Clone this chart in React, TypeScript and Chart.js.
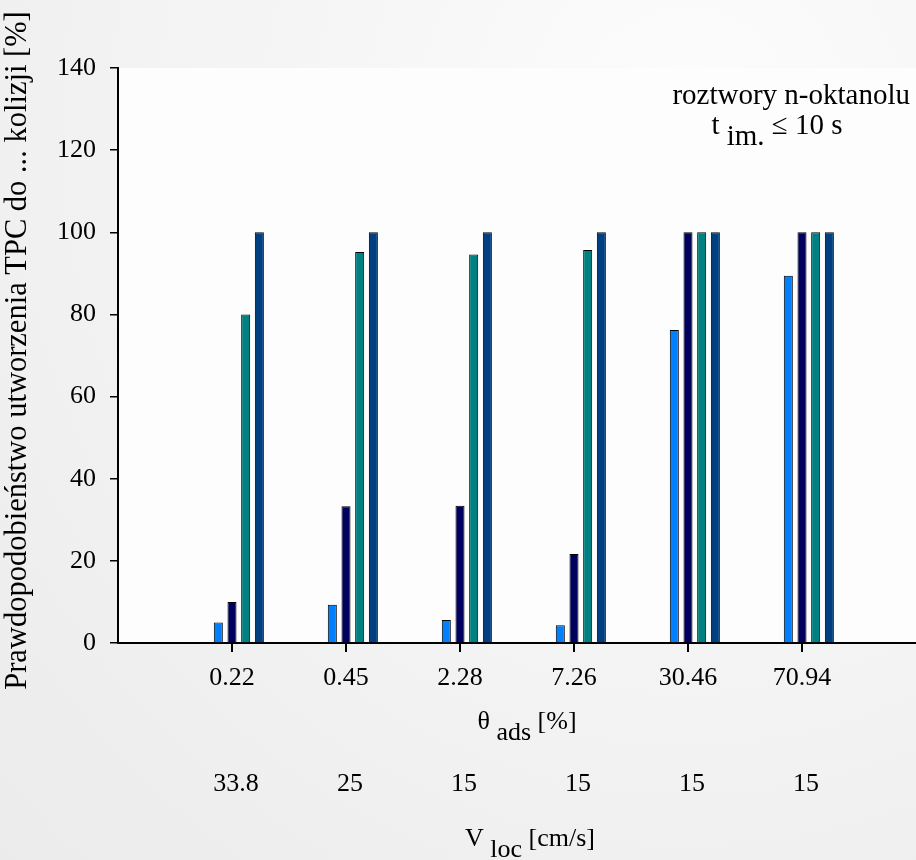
import React, { useEffect, useRef } from "react";
import { Chart, registerables } from "chart.js";

Chart.register(...registerables);

// ---- data ----
const thetaLabels = ["0.22", "0.45", "2.28", "7.26", "30.46", "70.94"];
const vlocLabels = ["33.8", "25", "15", "15", "15", "15"];
const series1 = [5.0, 9.3, 5.6, 4.3, 76.2, 89.4];
const series2 = [10.0, 33.3, 33.4, 21.7, 100, 100];
const series3 = [80.0, 95.2, 94.6, 95.7, 100, 100];
const series4 = [100, 100, 100, 100, 100, 100];
const seriesBlank = [null, null, null, null, null, null];
const seriesColors = ["#0080ff", "#00005e", "#008080", "#004080"];
const yMin = 0;
const yMax = 140;
const yStep = 20;

const FONT = "'Liberation Serif', 'Times New Roman', serif";
const W = 916;
const H = 860;

const pad = (arr: (number | null)[]) => [null, ...arr, null];

type Part = { text: string; size: number; dy: number };

function drawParts(ctx: CanvasRenderingContext2D, parts: Part[], cx: number, y: number) {
  let total = 0;
  const widths = parts.map((p) => {
    ctx.font = `${p.size}px ${FONT}`;
    const w = ctx.measureText(p.text).width;
    total += w;
    return w;
  });
  let x = cx - total / 2;
  ctx.textAlign = "left";
  ctx.textBaseline = "alphabetic";
  parts.forEach((p, i) => {
    ctx.font = `${p.size}px ${FONT}`;
    ctx.fillText(p.text, x, y + p.dy);
    x += widths[i];
  });
}

const decorPlugin = {
  id: "decor",
  beforeDraw(chart: any) {
    const { ctx, chartArea } = chart;
    ctx.save();
    ctx.fillStyle = "#fdfdfd";
    ctx.fillRect(chartArea.left, chartArea.top, chartArea.right - chartArea.left, chartArea.bottom - chartArea.top);
    ctx.restore();
  },
  afterDraw(chart: any) {
    const { ctx, chartArea } = chart;
    const xs = chart.scales.x;
    ctx.save();
    // category tick marks below the x axis
    ctx.fillStyle = "#000";
    thetaLabels.forEach((_, i) => {
      const px = Math.round(xs.getPixelForValue(i + 1));
      ctx.fillRect(px - 1, Math.round(chartArea.bottom), 2, 9);
    });
    // second row of category labels (V loc)
    ctx.font = `26px ${FONT}`;
    ctx.textAlign = "center";
    ctx.textBaseline = "middle";
    vlocLabels.forEach((lab, i) => {
      ctx.fillText(lab, xs.getPixelForValue(i + 1) + 4, 784);
    });
    // theta ads title
    drawParts(ctx, [
      { text: "θ ", size: 26, dy: 0 },
      { text: "ads", size: 26, dy: 11 },
      { text: " [%]", size: 26, dy: 0 },
    ], 527, 729);
    // V loc title
    drawParts(ctx, [
      { text: "V ", size: 26, dy: 0 },
      { text: "loc", size: 26, dy: 11 },
      { text: " [cm/s]", size: 26, dy: 0 },
    ], 530, 846);
    // y title
    ctx.save();
    ctx.translate(18, (chartArea.top + chartArea.bottom) / 2 - 5);
    ctx.rotate(-Math.PI / 2);
    ctx.font = `30.5px ${FONT}`;
    ctx.textAlign = "center";
    ctx.textBaseline = "middle";
    ctx.fillText("Prawdopodobieństwo utworzenia TPC do ... kolizji [%]", 0, 0);
    ctx.restore();
    // annotation
    ctx.font = `29px ${FONT}`;
    ctx.textAlign = "right";
    ctx.textBaseline = "alphabetic";
    ctx.fillText("roztwory n-oktanolu", 910, 104);
    drawParts(ctx, [
      { text: "t ", size: 29, dy: 0 },
      { text: "im.", size: 29, dy: 11 },
      { text: " ≤ 10 s", size: 29, dy: 0 },
    ], 777, 134);
    ctx.restore();
  },
};

export default function App() {
  const ref = useRef<HTMLCanvasElement>(null);
  useEffect(() => {
    if (!ref.current) return;
    const labels = ["", ...thetaLabels, ""];
    const data = [seriesBlank, series1, series2, series3, series4];
    const chart = new Chart(ref.current, {
      type: "bar",
      data: {
        labels,
        datasets: data.map((d, i) => ({
          label: i === 0 ? "" : `s${i}`,
          data: pad(d),
          backgroundColor: i === 0 ? "transparent" : seriesColors[i - 1],
          borderColor: "#000",
          borderWidth: 1,
          borderSkipped: "bottom",
          categoryPercentage: 0.6,
          barPercentage: 0.66,
        })),
      },
      options: {
        responsive: false,
        devicePixelRatio: 1,
        animation: false,
        layout: { padding: { top: 68, right: 0, left: 0, bottom: 0 } },
        plugins: { legend: { display: false }, tooltip: { enabled: false }, title: { display: false } },
        scales: {
          x: {
            offset: false,
            grid: {
              display: true,
              offset: false,
              drawOnChartArea: false,
              drawTicks: true,
              tickLength: 8,
              color: "rgba(0,0,0,0)",
              tickColor: "rgba(0,0,0,0)",
            },
            border: { display: true, color: "#000", width: 2 },
            ticks: { color: "#000", font: { family: FONT, size: 26 }, padding: 12, maxRotation: 0, autoSkip: false },
            afterFit: (s: any) => { s.height = 217; s.paddingRight = 0; s.paddingLeft = 0; },
          },
          y: {
            min: yMin,
            max: yMax,
            grid: { drawOnChartArea: false, drawTicks: true, tickLength: 8, color: "#000", tickColor: "#000", lineWidth: 1.5, tickWidth: 1.5 },
            border: { display: true, color: "#000", width: 2 },
            ticks: { stepSize: yStep, color: "#000", font: { family: FONT, size: 26 }, padding: 14 },
            afterFit: (s: any) => { s.width = 118; },
          },
        },
      },
      plugins: [decorPlugin],
    });
    return () => chart.destroy();
  }, []);
  return (
    <div style={{ position: "fixed", left: 0, top: 0, width: W, height: H, background: "radial-gradient(ellipse at 75% 15%, #fcfcfc 0%, #f3f3f3 55%, #ebebeb 100%)" }}>
      <canvas ref={ref} width={W} height={H} style={{ display: "block", width: W, height: H }} />
    </div>
  );
}
